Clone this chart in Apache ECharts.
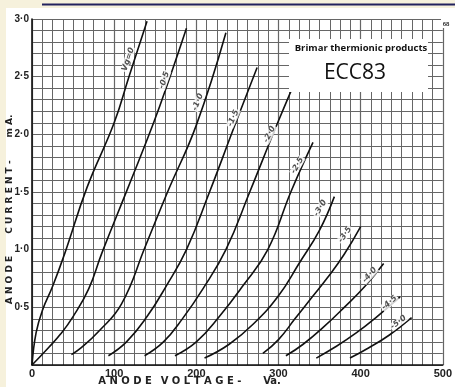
<!DOCTYPE html>
<html><head><meta charset="utf-8">
<script src="https://cdn.jsdelivr.net/npm/echarts@6/dist/echarts.min.js"></script>
<style>html,body{margin:0;padding:0;background:#f6f1dc}#c{width:455px;height:387px}</style>
</head><body><div id="c"></div><script>
// Anode voltage (V) vs anode current (mA) for each grid voltage
const gridVoltages = ['Vg=0','-0·5','-1·0','-1·5','-2·0','-2·5','-3·0','-3·5','-4·0','-4·5','-5·0'];
const curve_0_0 = [[0,0],[5,0.28],[13,0.48],[25,0.68],[40,0.97],[67,1.54],[100,2.1],[118,2.5],[140,2.98]];
const curve_0_5 = [[0,0],[20,0.15],[35,0.27],[50,0.42],[69,0.66],[85,0.97],[117,1.54],[148,2.1],[168,2.5],[188,2.92]];
const curve_1_0 = [[48,0.09],[60,0.15],[81,0.29],[109,0.53],[138,1.03],[165,1.5],[200,2.08],[236,2.88]];
const curve_1_5 = [[93,0.08],[115,0.2],[140,0.42],[163,0.68],[188,1.0],[215,1.48],[248,2.1],[274,2.58]];
const curve_2_0 = [[137,0.08],[160,0.2],[183,0.4],[208,0.66],[236,1.0],[265,1.5],[299,2.1],[330,2.62]];
const curve_2_5 = [[174,0.08],[200,0.2],[228,0.42],[256,0.68],[287,1.0],[315,1.5],[342,1.93]];
const curve_3_0 = [[210,0.06],[240,0.18],[270,0.36],[300,0.6],[325,0.88],[350,1.17],[368,1.46]];
const curve_3_5 = [[281,0.1],[300,0.22],[320,0.4],[340,0.58],[360,0.76],[380,0.96],[400,1.2]];
const curve_4_0 = [[309,0.08],[330,0.18],[355,0.33],[380,0.5],[405,0.68],[428,0.88]];
const curve_4_5 = [[346,0.06],[370,0.16],[395,0.28],[420,0.42],[448,0.59]];
const curve_5_0 = [[387,0.06],[410,0.15],[435,0.26],[462,0.41]];
const curves = [curve_0_0,curve_0_5,curve_1_0,curve_1_5,curve_2_0,curve_2_5,curve_3_0,curve_3_5,curve_4_0,curve_4_5,curve_5_0];
// where each curve's grid-voltage label sits (V, mA)
const labelAt = [[117,2.65],[161,2.47],[202,2.28],[245,2.14],[289,2.0],[323,1.73],[351,1.36],[381,1.13],[411,0.78],[435,0.54],[446,0.37]];
const labelAngle = [72,70,68,66,64,60,58,55,48,42,38];
const xTicks = [0,100,200,300,400,500];
const yTicks = [0,0.5,1.0,1.5,2.0,2.5,3.0];

const chart = echarts.init(document.getElementById('c'), null, {renderer:'canvas'});
const gridColor = '#666';
const series = curves.map((d,i)=>({
  type:'line', data:d, smooth:0.45, showSymbol:false, silent:true,
  lineStyle:{color:'#111', width:1.6}, z:3
}));
series.push({
  type:'scatter', symbolSize:0, silent:true, z:4,
  data: labelAt.map((p,i)=>({value:p, label:{show:true, formatter:gridVoltages[i], rotate:labelAngle[i],
    position:'inside', fontSize:8, fontWeight:'bold', fontStyle:'italic', color:'#222',
    backgroundColor:'#fff', padding:[0,1], fontFamily:'DejaVu Sans'}}))
});
const axisFont = {fontSize:10, fontWeight:'bold', color:'#222', fontFamily:'Liberation Sans'};
chart.setOption({
  backgroundColor:'#f6f1dc',
  animation:false,
  grid:{left:32, right:3, top:19, bottom:22},
  xAxis:{type:'value', min:0, max:500, interval:100,
    axisLine:{show:true, lineStyle:{color:'#111', width:1.6}}, axisTick:{show:false},
    axisLabel:Object.assign({margin:3, customValues:xTicks}, axisFont, {fontSize:11}),
    splitLine:{show:true, lineStyle:{color:gridColor, width:1.2}},
    minorTick:{show:false, splitNumber:8},
    minorSplitLine:{show:true, lineStyle:{color:gridColor, width:1}}},
  yAxis:{type:'value', min:0, max:3, interval:0.5,
    axisLine:{show:true, lineStyle:{color:'#111', width:1.6}}, axisTick:{show:false},
    axisLabel:Object.assign({margin:3, formatter:v=> v===0 ? '' : v.toFixed(1).replace('.','·')}, axisFont),
    splitLine:{show:true, lineStyle:{color:gridColor, width:1.2}},
    minorTick:{show:false, splitNumber:5},
    minorSplitLine:{show:true, lineStyle:{color:gridColor, width:1}}},
  graphic:[
    {type:'rect', z:-100, shape:{x:6,y:8,width:449,height:379}, style:{fill:'#ffffff'}},
    {type:'line', z:-90, shape:{x1:42,y1:4.5,x2:455,y2:4.5}, style:{stroke:'#22225e', lineWidth:2}},
    {type:'rect', z:100, shape:{x:289,y:39,width:139,height:53}, style:{fill:'#ffffff'}},
    {type:'text', z:101, x:361, y:48, style:{text:'Brimar thermionic products', font:'bold 9.5px "Open Sans"', fill:'#111', align:'center', verticalAlign:'middle'}},
    {type:'text', z:101, x:355, y:73, style:{text:'ECC83', font:'21px "Open Sans"', fill:'#111', align:'center', verticalAlign:'middle'}},
    {type:'rect', z:100, shape:{x:441,y:19,width:11,height:9}, style:{fill:'#ffffff'}},
    {type:'text', z:101, x:446, y:24, style:{text:'68', font:'bold 6px "Liberation Sans"', fill:'#333', align:'center', verticalAlign:'middle'}},
    {type:'text', z:101, x:10, y:280, rotation:Math.PI/2, style:{text:'A N O D E', font:'bold 9px "DejaVu Sans"', fill:'#222', align:'center', verticalAlign:'middle'}},
    {type:'text', z:101, x:10, y:197, rotation:Math.PI/2, style:{text:'C U R R E N T -', font:'bold 9px "DejaVu Sans"', fill:'#222', align:'center', verticalAlign:'middle'}},
    {type:'text', z:101, x:10, y:126, rotation:Math.PI/2, style:{text:'m A.', font:'bold 9px "DejaVu Sans"', fill:'#222', align:'center', verticalAlign:'middle'}},
    {type:'text', z:101, x:125, y:381, style:{text:'A N O D E', font:'bold 10px "DejaVu Sans"', fill:'#222', align:'center', verticalAlign:'middle'}},
    {type:'text', z:101, x:201, y:381, style:{text:'V O L T A G E -', font:'bold 10px "DejaVu Sans"', fill:'#222', align:'center', verticalAlign:'middle'}},
    {type:'text', z:101, x:272, y:381, style:{text:'Va.', font:'bold 10px "DejaVu Sans"', fill:'#222', align:'center', verticalAlign:'middle'}}
  ],
  series:series
});
</script></body></html>
